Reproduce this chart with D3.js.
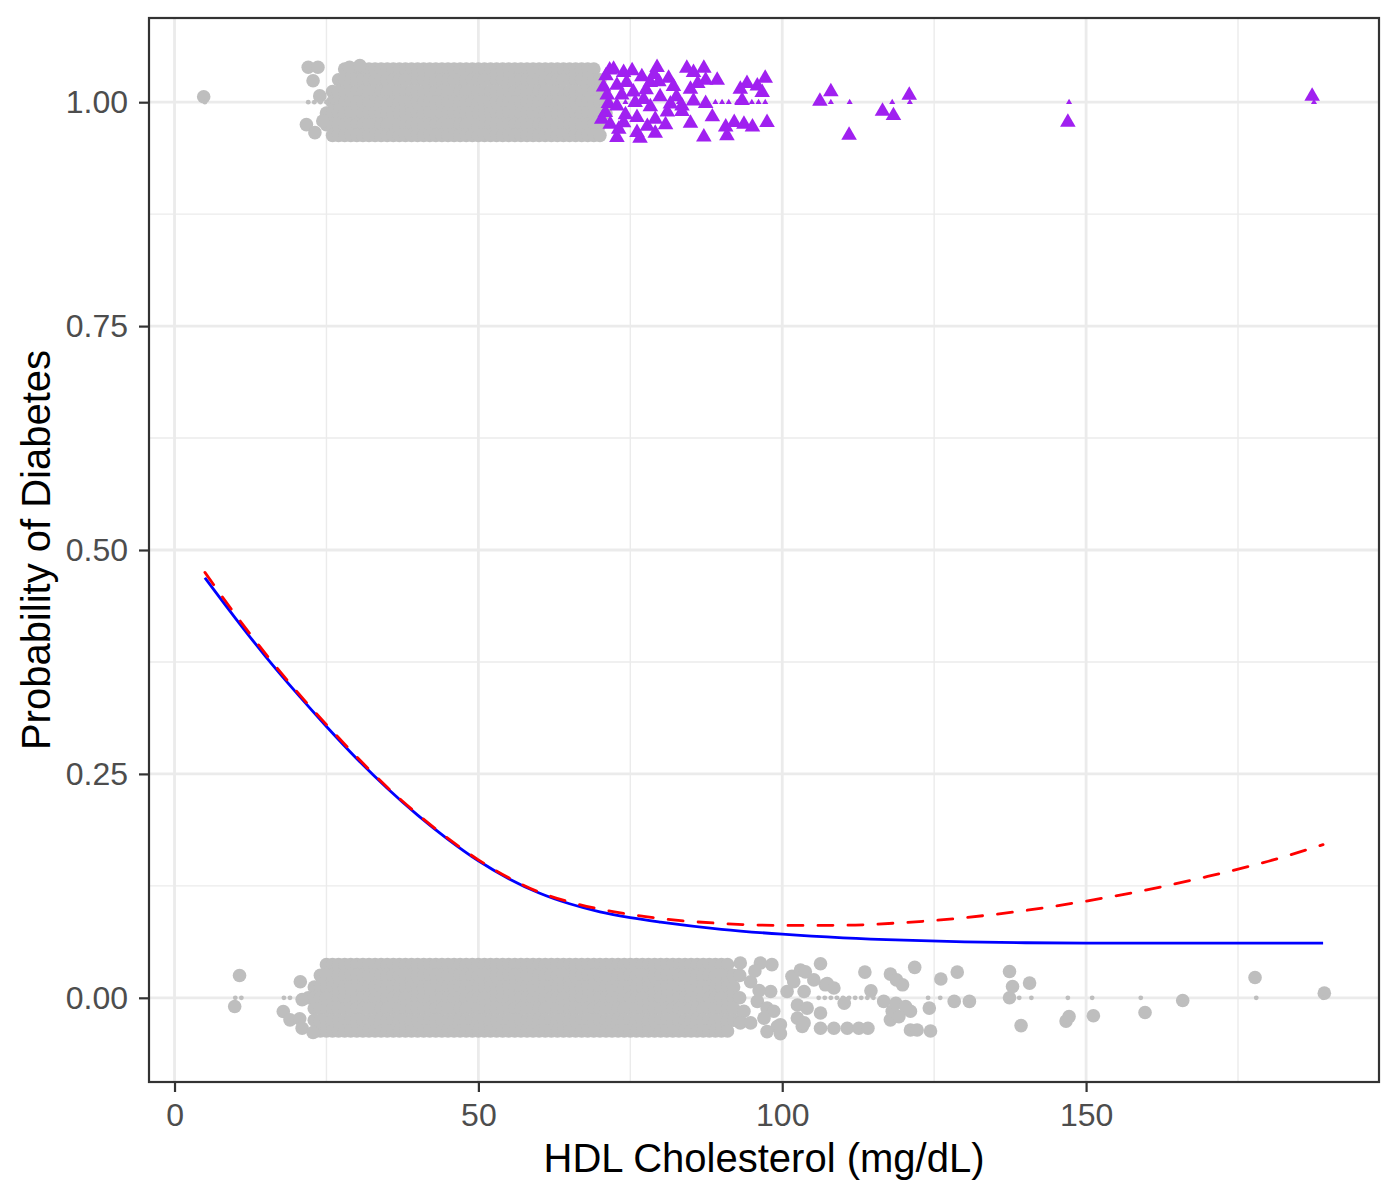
<!DOCTYPE html>
<html>
<head>
<meta charset="utf-8">
<script src="https://cdn.jsdelivr.net/npm/d3@7"></script>
<style>
  body { margin: 0; background: #fff; }
  text { font-family: "Liberation Sans", Arial, sans-serif; }
</style>
</head>
<body>
<svg id="chart" width="1400" height="1200"></svg>
<script>
// Axis breaks
const xTicks = [0, 50, 100, 150];
const xMinor = [25, 75, 125, 175];
const yTicks = [0, 0.25, 0.5, 0.75, 1];
const yMinor = [0.125, 0.375, 0.625, 0.875];

// Fitted curves
const curveHdl = [5, 10, 15, 20, 25, 30, 35, 40, 45, 50, 55, 60, 65, 70, 75, 80, 90, 100, 110, 120, 130, 140, 150, 160, 170, 180, 189];
const blueFit = [0.469, 0.424, 0.381, 0.341, 0.303, 0.267, 0.234, 0.204, 0.177, 0.153, 0.133, 0.117, 0.105, 0.096, 0.0895, 0.0845, 0.0765, 0.071, 0.067, 0.0643, 0.0625, 0.0615, 0.061, 0.061, 0.061, 0.061, 0.061];
const redFit = [0.475, 0.428, 0.384, 0.343, 0.305, 0.269, 0.235, 0.205, 0.178, 0.154, 0.134, 0.118, 0.107, 0.099, 0.093, 0.0885, 0.083, 0.0808, 0.081, 0.084, 0.0895, 0.0975, 0.108, 0.1205, 0.1355, 0.1525, 0.171];

// Dense band at outcome 0: jitter offset of each row, HDL values in that row
const zeroJitter = [0.037, 0.025, 0.012, 0, -0.012, -0.025, -0.037];
const zeroRows = [
  [25,26,27,28,29,30,31,32,33,34,35,36,37,38,39,40,41,42,43,44,45,46,47,48,49,50,51,52,53,54,55,56,57,58,59,60,61,62,63,64,65,66,67,68,69,70,71,72,73,74,75,76,77,78,79,80,81,82,83,84,85,86,87,88,89,90,91],
  [24,25,26,27,28,29,30,31,32,33,34,35,36,37,38,39,40,41,42,43,44,45,46,47,48,49,50,51,52,53,54,55,56,57,58,59,60,61,62,63,64,65,66,67,68,69,70,71,72,73,74,75,76,77,78,79,80,81,82,83,84,85,86,87,88,89,90,91,92,93],
  [23,24,25,26,27,28,29,30,31,32,33,34,35,36,37,38,39,40,41,42,43,44,45,46,47,48,49,50,51,52,53,54,55,56,57,58,59,60,61,62,63,64,65,66,67,68,69,70,71,72,73,74,75,76,77,78,79,80,81,82,83,84,85,86,87,88,89,90,91,92],
  [22,23,24,25,26,27,28,29,30,31,32,33,34,35,36,37,38,39,40,41,42,43,44,45,46,47,48,49,50,51,52,53,54,55,56,57,58,59,60,61,62,63,64,65,66,67,68,69,70,71,72,73,74,75,76,77,78,79,80,81,82,83,84,85,86,87,88,89,90,91,92,93],
  [23,24,25,26,27,28,29,30,31,32,33,34,35,36,37,38,39,40,41,42,43,44,45,46,47,48,49,50,51,52,53,54,55,56,57,58,59,60,61,62,63,64,65,66,67,68,69,70,71,72,73,74,75,76,77,78,79,80,81,82,83,84,85,86,87,88,89,90,91,92],
  [23,24,25,26,27,28,29,30,31,32,33,34,35,36,37,38,39,40,41,42,43,44,45,46,47,48,49,50,51,52,53,54,55,56,57,58,59,60,61,62,63,64,65,66,67,68,69,70,71,72,73,74,75,76,77,78,79,80,81,82,83,84,85,86,87,88,89,90,91,92,93],
  [24,25,26,27,28,29,30,31,32,33,34,35,36,37,38,39,40,41,42,43,44,45,46,47,48,49,50,51,52,53,54,55,56,57,58,59,60,61,62,63,64,65,66,67,68,69,70,71,72,73,74,75,76,77,78,79,80,81,82,83,84,85,86,87,88,89,90,91]
];
// Scattered jittered points at outcome 0 [hdl, jittered y]
const zeroScatter = [
  [9.9, -0.0097], [10.7, 0.0249], [17.9, -0.0153], [19, -0.0246], [20.6, -0.0235], [20.7, 0.018], [21, -0.002], [21, -0.034], [22.8, -0.0387],
  [93.1, 0.0388], [96.4, 0.0388], [98.3, 0.037], [94.8, 0.018], [98.1, 0.007], [95.9, -0.004], [97.5, -0.0115], [93.7, -0.015], [98.6, -0.015],
  [97, -0.0227], [93.1, -0.028], [94.8, -0.028], [99.7, -0.03], [99.2, -0.032], [97.5, -0.0377], [99.7, -0.04], [95.5, 0.03], [96.2, 0.008],
  [100.8, 0.007], [101.6, 0.024], [101.9, 0.018], [103, 0.031], [102.5, -0.008], [102.5, -0.0227], [103.3, -0.032], [103.6, 0.007], [103.6, -0.028],
  [103.8, 0.029], [104.1, -0.0115], [105.2, 0.02], [106.3, 0.038], [106.3, -0.017], [106.3, -0.034], [107.1, 0.0145], [107.4, 0.016], [108.5, 0.011],
  [108.5, -0.034], [110.2, -0.006], [110.7, -0.034], [112.6, -0.034], [113.6, 0.0287], [114.1, -0.034], [114.6, 0.0078], [116.7, -0.004],
  [117.8, 0.0265], [118.8, 0.02], [119.8, 0.0145], [117.8, -0.0246], [118.1, -0.015], [118.7, -0.006], [119.2, -0.021], [120.3, -0.0097],
  [121.1, -0.015], [121.1, -0.036], [121.8, 0.034], [122.2, -0.036], [124.2, -0.0115], [124.4, -0.037], [126.1, 0.021], [128.3, -0.004],
  [128.8, 0.0287], [130.8, -0.004], [137.4, 0.0294], [137.4, 0], [137.9, 0.0127], [139.3, -0.031], [140.7, 0.0164], [146.7, -0.026],
  [147.2, -0.021], [151.2, -0.02], [159.7, -0.0164], [165.9, -0.003], [177.8, 0.0227], [189.2, 0.0052]
];
// Unjittered observations at outcome 0 (only the visible ones)
const zeroRaw = [10, 11, 18, 19, 106, 107, 108, 109, 110, 111, 112, 113, 114, 115, 124, 126, 139, 141, 147, 151, 159, 178, 189];

// Dense band at outcome 1 (grey part)
const oneJitter = [1.037, 1.025, 1.012, 1, 0.988, 0.975, 0.963];
const oneRows = [
  [28,29,30,31,32,33,34,35,36,37,38,39,40,41,42,43,44,45,46,47,48,49,50,51,52,53,54,55,56,57,58,59,60,61,62,63,64,65,66,67,68,69],
  [27,28,29,30,31,32,33,34,35,36,37,38,39,40,41,42,43,44,45,46,47,48,49,50,51,52,53,54,55,56,57,58,59,60,61,62,63,64,65,66,67,68,69,70],
  [26,27,28,29,30,31,32,33,34,35,36,37,38,39,40,41,42,43,44,45,46,47,48,49,50,51,52,53,54,55,56,57,58,59,60,61,62,63,64,65,66,67,68,69,70],
  [26,27,28,29,30,31,32,33,34,35,36,37,38,39,40,41,42,43,44,45,46,47,48,49,50,51,52,53,54,55,56,57,58,59,60,61,62,63,64,65,66,67,68,69,70,71],
  [25,26,27,28,29,30,31,32,33,34,35,36,37,38,39,40,41,42,43,44,45,46,47,48,49,50,51,52,53,54,55,56,57,58,59,60,61,62,63,64,65,66,67,68,69,70,71],
  [25,26,27,28,29,30,31,32,33,34,35,36,37,38,39,40,41,42,43,44,45,46,47,48,49,50,51,52,53,54,55,56,57,58,59,60,61,62,63,64,65,66,67,68,69,70],
  [26,27,28,29,30,31,32,33,34,35,36,37,38,39,40,41,42,43,44,45,46,47,48,49,50,51,52,53,54,55,56,57,58,59,60,61,62,63,64,65,66,67,68,69,70]
];
const oneScatter = [
  [4.8, 1.006], [22, 1.039], [23.6, 1.039], [22.8, 1.024], [23.9, 1.007], [21.7, 0.975], [23.1, 0.966], [24.4, 0.979], [28.8, 1.039], [30.5, 1.041]
];
const oneRaw = [5, 22, 23, 24, 25, 26];

// Highlighted outcome-1 cases (purple triangles) [hdl, jittered y]
const purpleJitter = [
  [72.25, 1.0369], [73.9, 1.0332], [75.3, 1.035], [71.0, 1.0294], [76.9, 1.0283], [79.4, 1.0388], [78.3, 1.022], [81.3, 1.0268],
  [84.3, 1.038], [87.1, 1.038], [85.4, 1.0332], [89.3, 1.0246], [87.4, 1.0246], [84.9, 1.0145], [82.1, 1.0174], [79.7, 1.0227],
  [72.8, 1.019], [70.6, 1.017], [75.5, 1.0115], [77.2, 1.003], [79.9, 1.006], [81.6, 0.998], [71.4, 0.9985], [72.8, 0.9958],
  [75.8, 0.9996], [78.3, 0.9948], [83.5, 0.9958], [85.4, 1.0014], [87.4, 0.9985], [93.4, 1.002], [94.2, 1.0209], [95.9, 1.0182],
  [97.2, 1.0268], [96.7, 1.0109], [93.1, 1.0145], [83.5, 0.9896], [70.9, 0.9885], [70.3, 0.981], [71.7, 0.9754], [73.1, 0.9698],
  [72.8, 0.9605], [76.1, 0.9829], [76.1, 0.9661], [76.6, 0.9598], [79.1, 0.981], [80.8, 0.9747], [79.1, 0.9654], [84.9, 0.9765],
  [88.5, 0.9836], [87.1, 0.9612], [90.7, 0.9724], [90.9, 0.9624], [92.1, 0.9773], [93.7, 0.9754], [95.1, 0.9724], [97.5, 0.9773],
  [71.6, 1.036], [74.4, 1.022], [73.6, 1.008], [77.6, 1.014], [74.2, 0.986], [77.8, 0.973], [81.1, 0.989], [82.6, 1.006],
  [86.1, 1.021], [71.2, 1.008], [73.9, 0.977], [78.9, 1.031],
  [106.2, 1.001], [108, 1.0117], [111, 0.963], [116.5, 0.99], [118.3, 0.985], [120.9, 1.0078], [147, 0.9777], [187.2, 1.0067]
];
const purpleRaw = [74.2, 83, 89, 90.1, 91.2, 92.6, 95, 96.1, 97.2, 108, 111.1, 118.1, 121, 147.2, 187.5];

const GREY = "#BEBEBE";
const PURPLE = "#A020F0";

const svg = d3.select("#chart");
const panel = { left: 149, right: 1379, top: 18, bottom: 1082 };

const x = d3.scaleLinear().domain([-4.2, 198.2]).range([panel.left, panel.right]);
const y = d3.scaleLinear().domain([-0.094, 1.094]).range([panel.bottom, panel.top]);

svg.append("rect").attr("width", 1400).attr("height", 1200).attr("fill", "#fff");

svg.append("defs").append("clipPath").attr("id", "panel-clip")
  .append("rect")
  .attr("x", panel.left).attr("y", panel.top)
  .attr("width", panel.right - panel.left).attr("height", panel.bottom - panel.top);

// Grid lines
const grid = svg.append("g");
grid.selectAll(".vminor").data(xMinor).join("line")
  .attr("x1", d => x(d)).attr("x2", d => x(d))
  .attr("y1", panel.top).attr("y2", panel.bottom)
  .attr("stroke", "#EBEBEB").attr("stroke-width", 1.4);
grid.selectAll(".hminor").data(yMinor).join("line")
  .attr("y1", d => y(d)).attr("y2", d => y(d))
  .attr("x1", panel.left).attr("x2", panel.right)
  .attr("stroke", "#EBEBEB").attr("stroke-width", 1.4);
grid.selectAll(".vmajor").data(xTicks).join("line")
  .attr("x1", d => x(d)).attr("x2", d => x(d))
  .attr("y1", panel.top).attr("y2", panel.bottom)
  .attr("stroke", "#EBEBEB").attr("stroke-width", 2.8);
grid.selectAll(".hmajor").data(yTicks).join("line")
  .attr("y1", d => y(d)).attr("y2", d => y(d))
  .attr("x1", panel.left).attr("x2", panel.right)
  .attr("stroke", "#EBEBEB").attr("stroke-width", 2.8);

const plot = svg.append("g").attr("clip-path", "url(#panel-clip)");

// Flatten the dense rows into points
let greyPts = [];
zeroRows.forEach((row, i) => row.forEach(h => greyPts.push([h, zeroJitter[i]])));
oneRows.forEach((row, i) => row.forEach(h => greyPts.push([h, oneJitter[i]])));
greyPts = greyPts.concat(zeroScatter, oneScatter);

plot.append("g").selectAll("circle").data(greyPts).join("circle")
  .attr("cx", d => x(d[0])).attr("cy", d => y(d[1]))
  .attr("r", 6.8).attr("fill", GREY);

const bigTri = d3.symbol().type(d3.symbolTriangle).size(105);
const smallTri = d3.symbol().type(d3.symbolTriangle).size(16);

plot.append("g").selectAll("path").data(purpleJitter).join("path")
  .attr("d", bigTri)
  .attr("transform", d => `translate(${x(d[0])},${y(d[1])})`)
  .attr("fill", PURPLE);

// Raw (unjittered) observations
plot.append("g").selectAll("circle").data(zeroRaw.map(h => [h, 0]).concat(oneRaw.map(h => [h, 1]))).join("circle")
  .attr("cx", d => x(d[0])).attr("cy", d => y(d[1]))
  .attr("r", 2.4).attr("fill", GREY);

plot.append("g").selectAll("path").data(purpleRaw).join("path")
  .attr("d", smallTri)
  .attr("transform", d => `translate(${x(d)},${y(1)})`)
  .attr("fill", PURPLE);

// Fitted curves
const line = d3.line().x(d => x(d[0])).y(d => y(d[1])).curve(d3.curveMonotoneX);

plot.append("path")
  .datum(curveHdl.map((h, i) => [h, blueFit[i]]))
  .attr("d", line)
  .attr("fill", "none").attr("stroke", "#0000FF").attr("stroke-width", 2.8);

plot.append("path")
  .datum(curveHdl.map((h, i) => [h, redFit[i]]))
  .attr("d", line)
  .attr("fill", "none").attr("stroke", "#FF0000").attr("stroke-width", 2.8)
  .attr("stroke-dasharray", "15,15").attr("stroke-linecap", "round");

// Panel border
svg.append("rect")
  .attr("x", panel.left).attr("y", panel.top)
  .attr("width", panel.right - panel.left).attr("height", panel.bottom - panel.top)
  .attr("fill", "none").attr("stroke", "#333333").attr("stroke-width", 2.2);

// Axes
const xAxis = svg.append("g")
  .attr("transform", `translate(0,${panel.bottom})`)
  .call(d3.axisBottom(x).tickValues(xTicks).tickSize(10).tickPadding(11).tickFormat(d3.format("d")));
const yAxis = svg.append("g")
  .attr("transform", `translate(${panel.left},0)`)
  .call(d3.axisLeft(y).tickValues(yTicks).tickSize(10).tickPadding(11).tickFormat(d3.format(".2f")));

[xAxis, yAxis].forEach(a => {
  a.select(".domain").remove();
  a.selectAll(".tick line").attr("stroke", "#333333").attr("stroke-width", 2.2);
  a.selectAll(".tick text")
    .attr("fill", "#4D4D4D")
    .style("font-size", "32px")
    .style("font-family", "'Liberation Sans', Arial, sans-serif");
});

// Axis titles
svg.append("text")
  .attr("x", (panel.left + panel.right) / 2).attr("y", 1172)
  .attr("text-anchor", "middle")
  .style("font-size", "40px").attr("fill", "#000")
  .text("HDL Cholesterol (mg/dL)");

svg.append("text")
  .attr("transform", `translate(50,${(panel.top + panel.bottom) / 2}) rotate(-90)`)
  .attr("text-anchor", "middle")
  .style("font-size", "40px").attr("fill", "#000")
  .text("Probability of Diabetes");
</script>
</body>
</html>
